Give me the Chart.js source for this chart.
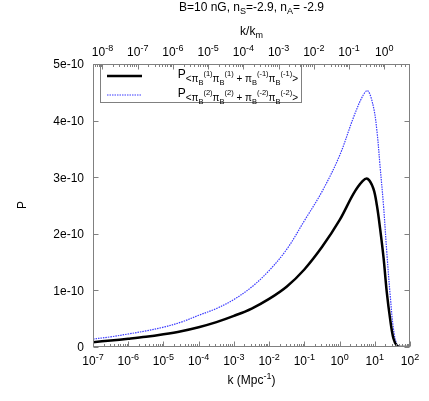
<!DOCTYPE html>
<html>
<head>
<meta charset="utf-8">
<script src="https://cdn.jsdelivr.net/npm/chart.js@4/dist/chart.umd.min.js"></script>
<style>
html,body{margin:0;padding:0;background:#fff;}
canvas{display:block;}
</style>
</head>
<body>
<canvas id="c" width="429" height="401"></canvas>
<script>
// ---- data ----
const kValues = [1e-7, 3.2e-7, 1e-6, 3.2e-6, 1e-5, 3.2e-5, 1e-4, 3.2e-4, 1e-3, 3.2e-3, 1e-2, 3.2e-2, 0.1, 0.32, 1, 2.5, 4.5, 6.3, 9.1, 11.5, 14.1, 17.8, 21.9, 27.5, 33.9, 42.7, 56, 100];
const seriesP1 = [0.085, 0.115, 0.145, 0.18, 0.225, 0.28, 0.35, 0.44, 0.55, 0.68, 0.85, 1.07, 1.37, 1.77, 2.24, 2.71, 2.93, 2.97, 2.80, 2.50, 2.10, 1.57, 0.97, 0.48, 0.15, 0.02, 0, 0];
const seriesP2 = [0.14, 0.18, 0.23, 0.285, 0.35, 0.44, 0.56, 0.68, 0.84, 1.06, 1.35, 1.73, 2.23, 2.75, 3.38, 4.06, 4.43, 4.53, 4.25, 3.82, 3.20, 2.48, 1.68, 0.90, 0.32, 0.04, 0, 0];
const valueUnit = 1e-10;
const kTicks = [1e-7, 1e-6, 1e-5, 1e-4, 1e-3, 1e-2, 1e-1, 1e0, 1e1, 1e2];
const kmTicks = [1e-8, 1e-7, 1e-6, 1e-5, 1e-4, 1e-3, 1e-2, 1e-1, 1e0];
const km = 18.6;
const yTicks = [0, 1e-10, 2e-10, 3e-10, 4e-10, 5e-10];
const yTickLabels = ['0', '1e-10', '2e-10', '3e-10', '4e-10', '5e-10'];
const seriesNames = ['P<πB(1)πB(1) + πB(-1)πB(-1)>', 'P<πB(2)πB(2) + πB(-2)πB(-2)>'];
const legendIdx = [['(1)', '(-1)'], ['(2)', '(-2)']];

const FONT = '"Liberation Sans", Arial, sans-serif';
const FRAME = '#808080';

function richWidth(ctx, segs) {
  let w = 0;
  for (const s of segs) { ctx.font = s[1] + 'px ' + FONT; w += ctx.measureText(s[0]).width; }
  return w;
}
function drawRich(ctx, segs, x, y, align) {
  const w = richWidth(ctx, segs);
  if (align === 'center') x -= w / 2;
  else if (align === 'right') x -= w;
  ctx.textBaseline = 'alphabetic';
  ctx.textAlign = 'left';
  for (const s of segs) {
    ctx.font = s[1] + 'px ' + FONT;
    ctx.fillText(s[0], x, y + s[2]);
    x += ctx.measureText(s[0]).width;
  }
}
function powLabel(v) {
  const e = Math.round(Math.log10(v));
  return [['10', 12, 0], [String(e), 9, -5]];
}
function legendSegs(a, b) {
  return [['P', 12, 0], ['<π', 10, 4.5], ['B', 7.5, 7], [a, 7.5, -1.5], ['π', 10, 4.5], ['B', 7.5, 7], [a, 7.5, -1.5],
          [' + π', 10, 4.5], ['B', 7.5, 7], [b, 7.5, -1.5], ['π', 10, 4.5], ['B', 7.5, 7], [b, 7.5, -1.5], ['>', 10, 4.5]];
}

const decor = {
  id: 'decor',
  afterDraw(chart) {
    const ctx = chart.ctx;
    const a = chart.chartArea;
    const xs = chart.scales.x, x2 = chart.scales.x2, ys = chart.scales.y;
    ctx.save();
    // frame
    ctx.strokeStyle = FRAME;
    ctx.lineWidth = 1;
    const L = Math.round(a.left) + 0.5, R = Math.round(a.right) - 0.5, T = Math.round(a.top) + 0.5, B = Math.round(a.bottom) - 0.5;
    ctx.strokeRect(L, T, R - L, B - T);
    ctx.beginPath();
    // bottom x ticks (major + minor)
    for (let i = 0; i < kTicks.length; i++) {
      const d = kTicks[i];
      for (let m = 1; m <= 9; m++) {
        const v = d * m;
        if (v < xs.min * 0.999 || v > xs.max * 1.001) continue;
        const px = Math.round(xs.getPixelForValue(v)) + 0.5;
        const len = m === 1 ? 5 : 2.5;
        ctx.moveTo(px, B); ctx.lineTo(px, B - len);
      }
    }
    // top x2 ticks
    const decs2 = [kmTicks[0] / 10].concat(kmTicks);
    for (const dd of decs2) {
      for (let m = 1; m <= 9; m++) {
        const v = dd * m;
        if (v < x2.min * 0.999 || v > x2.max * 1.001) continue;
        const px = Math.round(x2.getPixelForValue(v)) + 0.5;
        const len = m === 1 ? 5 : 2.5;
        ctx.moveTo(px, T); ctx.lineTo(px, T + len);
      }
    }
    // y ticks both sides
    for (const v of yTicks) {
      const py = Math.round(ys.getPixelForValue(v)) + 0.5;
      ctx.moveTo(L, py); ctx.lineTo(L + 5, py);
      ctx.moveTo(R, py); ctx.lineTo(R - 5, py);
    }
    ctx.stroke();

    ctx.fillStyle = '#000';
    for (const v of kTicks) {
      drawRich(ctx, powLabel(v), xs.getPixelForValue(v), 365, 'center');
    }
    for (const v of kmTicks) {
      drawRich(ctx, powLabel(v), x2.getPixelForValue(v), 56, 'center');
    }
    ctx.font = '12px ' + FONT;
    ctx.textAlign = 'right';
    ctx.textBaseline = 'middle';
    yTicks.forEach((v, i) => {
      ctx.fillText(yTickLabels[i], 84, ys.getPixelForValue(v) + 1);
    });
    const cx = (a.left + a.right) / 2;
    drawRich(ctx, [['k (Mpc', 12, 0], ['-1', 9, -5], [')', 12, 0]], cx, 384, 'center');
    drawRich(ctx, [['k/k', 12, 0], ['m', 9, 3]], cx, 35, 'center');
    drawRich(ctx, [['B=10 nG, n', 12, 0], ['S', 9, 3], ['=-2.9, n', 12, 0], ['A', 9, 3], ['= -2.9', 12, 0]], cx, 10.5, 'center');
    ctx.save();
    ctx.translate(26, 205);
    ctx.rotate(-Math.PI / 2);
    drawRich(ctx, [['P', 12, 0]], 0, 0, 'center');
    ctx.restore();

    // legend
    ctx.strokeStyle = FRAME;
    ctx.lineWidth = 1;
    ctx.strokeRect(100.5, 64.5, 201, 38);
    const rows = [76, 95];
    chart.data.datasets.forEach((ds, i) => {
      ctx.save();
      ctx.strokeStyle = ds.borderColor;
      ctx.lineWidth = ds.borderWidth;
      ctx.setLineDash(ds.borderDash || []);
      ctx.beginPath();
      ctx.moveTo(107, rows[i]); ctx.lineTo(142, rows[i]);
      ctx.stroke();
      ctx.restore();
      ctx.fillStyle = '#000';
      drawRich(ctx, legendSegs(legendIdx[i][0], legendIdx[i][1]), 298, rows[i] + 1.5, 'right');
    });
    ctx.restore();
  }
};

new Chart(document.getElementById('c'), {
  type: 'line',
  data: {
    datasets: [
      {
        label: seriesNames[0],
        data: kValues.map((k, i) => ({ x: k, y: seriesP1[i] * valueUnit })),
        borderColor: '#000000',
        borderWidth: 2.5,
        pointRadius: 0,
        tension: 0.35,
        fill: false
      },
      {
        label: seriesNames[1],
        data: kValues.map((k, i) => ({ x: k, y: seriesP2[i] * valueUnit })),
        borderColor: '#3a3aff',
        borderWidth: 1.2,
        borderDash: [1.5, 1],
        pointRadius: 0,
        tension: 0.35,
        fill: false
      }
    ]
  },
  options: {
    responsive: false,
    devicePixelRatio: 1,
    animation: false,
    layout: { padding: { left: 0, right: 19, top: 0, bottom: 0 } },
    plugins: { legend: { display: false }, title: { display: false }, tooltip: { enabled: false } },
    scales: {
      x: {
        type: 'logarithmic', position: 'bottom', min: kTicks[0], max: kTicks[kTicks.length - 1],
        ticks: { display: false }, grid: { display: false }, border: { display: false },
        afterFit(s) { s.height = 54; }
      },
      x2: {
        type: 'logarithmic', position: 'top', min: kTicks[0] / km, max: kTicks[kTicks.length - 1] / km,
        ticks: { display: false }, grid: { display: false }, border: { display: false },
        afterFit(s) { s.height = 64; }
      },
      y: {
        type: 'linear', position: 'left', min: yTicks[0], max: yTicks[yTicks.length - 1],
        ticks: { display: false }, grid: { display: false }, border: { display: false },
        afterFit(s) { s.width = 93; }
      }
    }
  },
  plugins: [decor]
});
</script>
</body>
</html>
